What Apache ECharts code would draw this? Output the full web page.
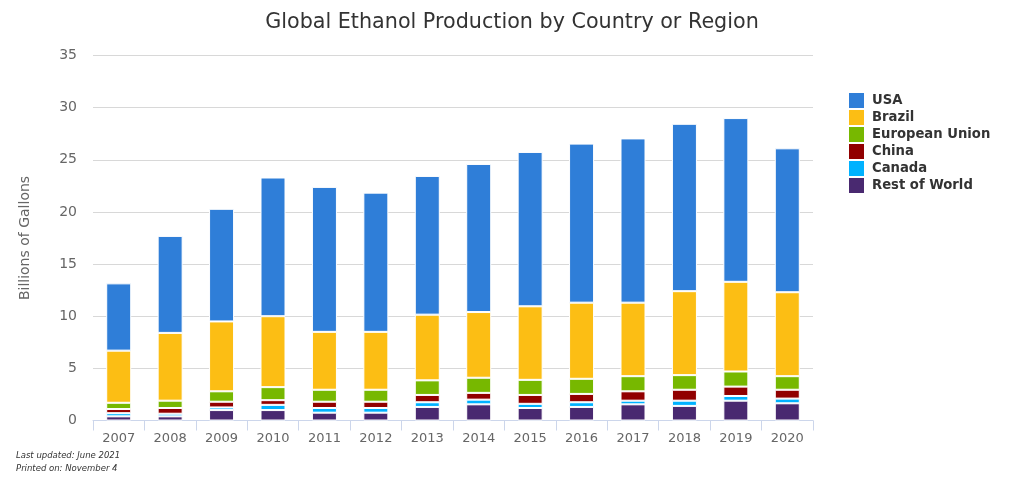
<!DOCTYPE html>
<html>
<head>
<meta charset="utf-8">
<style>
  html, body { margin: 0; padding: 0; background: #fff; }
  #main { width: 1024px; height: 482px; }
</style>
<script src="https://cdn.jsdelivr.net/npm/echarts@6/dist/echarts.min.js"></script>
</head>
<body>
<div id="main"></div>
<script>
// data, billions of gallons
var years = ['2007','2008','2009','2010','2011','2012','2013','2014','2015','2016','2017','2018','2019','2020'];
var usa = [6.45, 9.3, 10.8, 13.3, 13.9, 13.35, 13.3, 14.2, 14.8, 15.25, 15.75, 16.05, 15.7, 13.8];
var brazil = [5.0, 6.5, 6.7, 6.8, 5.55, 5.55, 6.3, 6.3, 7.05, 7.3, 7.05, 8.05, 8.6, 8.05];
var eu = [0.6, 0.7, 1.0, 1.25, 1.15, 1.15, 1.4, 1.45, 1.45, 1.45, 1.45, 1.4, 1.45, 1.3];
var china = [0.4, 0.55, 0.55, 0.45, 0.6, 0.6, 0.7, 0.65, 0.85, 0.8, 0.9, 1.05, 0.9, 0.85];
var canada = [0.3, 0.25, 0.25, 0.5, 0.45, 0.45, 0.45, 0.45, 0.4, 0.45, 0.35, 0.5, 0.45, 0.45];
var rest = [0.4, 0.4, 1.0, 1.0, 0.75, 0.75, 1.3, 1.55, 1.2, 1.3, 1.55, 1.4, 1.9, 1.65];
var yTicks = [0, 5, 10, 15, 20, 25, 30, 35];

var seriesNames = ['USA', 'Brazil', 'European Union', 'China', 'Canada', 'Rest of World'];
var seriesData = [usa, brazil, eu, china, canada, rest];
var seriesColors = ['#2f7ed8', '#fcbe14', '#77b800', '#910000', '#00b2ff', '#492970'];

// stack from the bottom up, legend keeps USA on top
var series = [];
for (var i = seriesNames.length - 1; i >= 0; i--) {
    series.push({
        name: seriesNames[i],
        type: 'bar',
        stack: 'total',
        barWidth: 25,
        data: seriesData[i],
        itemStyle: {
            color: seriesColors[i],
            borderColor: '#ffffff',
            borderWidth: 1
        }
    });
}

var myChart = echarts.init(document.getElementById('main'));
var option = {
    animation: false,
    textStyle: { fontFamily: 'DejaVu Sans' },
    title: {
        text: 'Global Ethanol Production by Country or Region',
        left: 512,
        top: 12,
        padding: 0,
        textAlign: 'center',
        textStyle: { color: '#333333', fontSize: 20.7, fontWeight: 'normal' }
    },
    legend: {
        orient: 'vertical',
        left: 849,
        top: 93,
        padding: 0,
        icon: 'rect',
        itemWidth: 15,
        itemHeight: 15,
        itemGap: 2,
        itemStyle: { borderWidth: 0 },
        data: seriesNames,
        textStyle: { color: '#333333', fontSize: 13.2, fontWeight: 'bold', lineHeight: 15, padding: [0, 0, 0, 3] }
    },
    grid: { left: 93, right: 211, top: 55.5, bottom: 61.5, containLabel: false },
    xAxis: {
        type: 'category',
        data: years,
        axisLine: { lineStyle: { color: '#ccd6eb', width: 1 } },
        axisTick: { show: true, alignWithLabel: false, length: 10, lineStyle: { color: '#ccd6eb', width: 1 } },
        axisLabel: { color: '#666666', fontSize: 13, margin: 12, interval: 0 }
    },
    yAxis: {
        type: 'value',
        min: yTicks[0],
        max: yTicks[yTicks.length - 1],
        interval: 5,
        name: 'Billions of Gallons',
        nameLocation: 'middle',
        nameGap: 61,
        nameTextStyle: { color: '#666666', fontSize: 14 },
        axisLine: { show: false },
        axisTick: { show: false },
        axisLabel: { color: '#666666', fontSize: 14, margin: 16 },
        splitLine: { lineStyle: { color: '#d8d8d8', width: 1 } }
    },
    graphic: [
        {
            type: 'text',
            left: 16,
            top: 449,
            style: {
                text: 'Last updated: June 2021\nPrinted on: November 4',
                fill: '#333333',
                font: 'italic 8.5px "DejaVu Sans"',
                lineHeight: 13
            }
        }
    ],
    series: series
};

myChart.setOption(option);
</script>
</body>
</html>
